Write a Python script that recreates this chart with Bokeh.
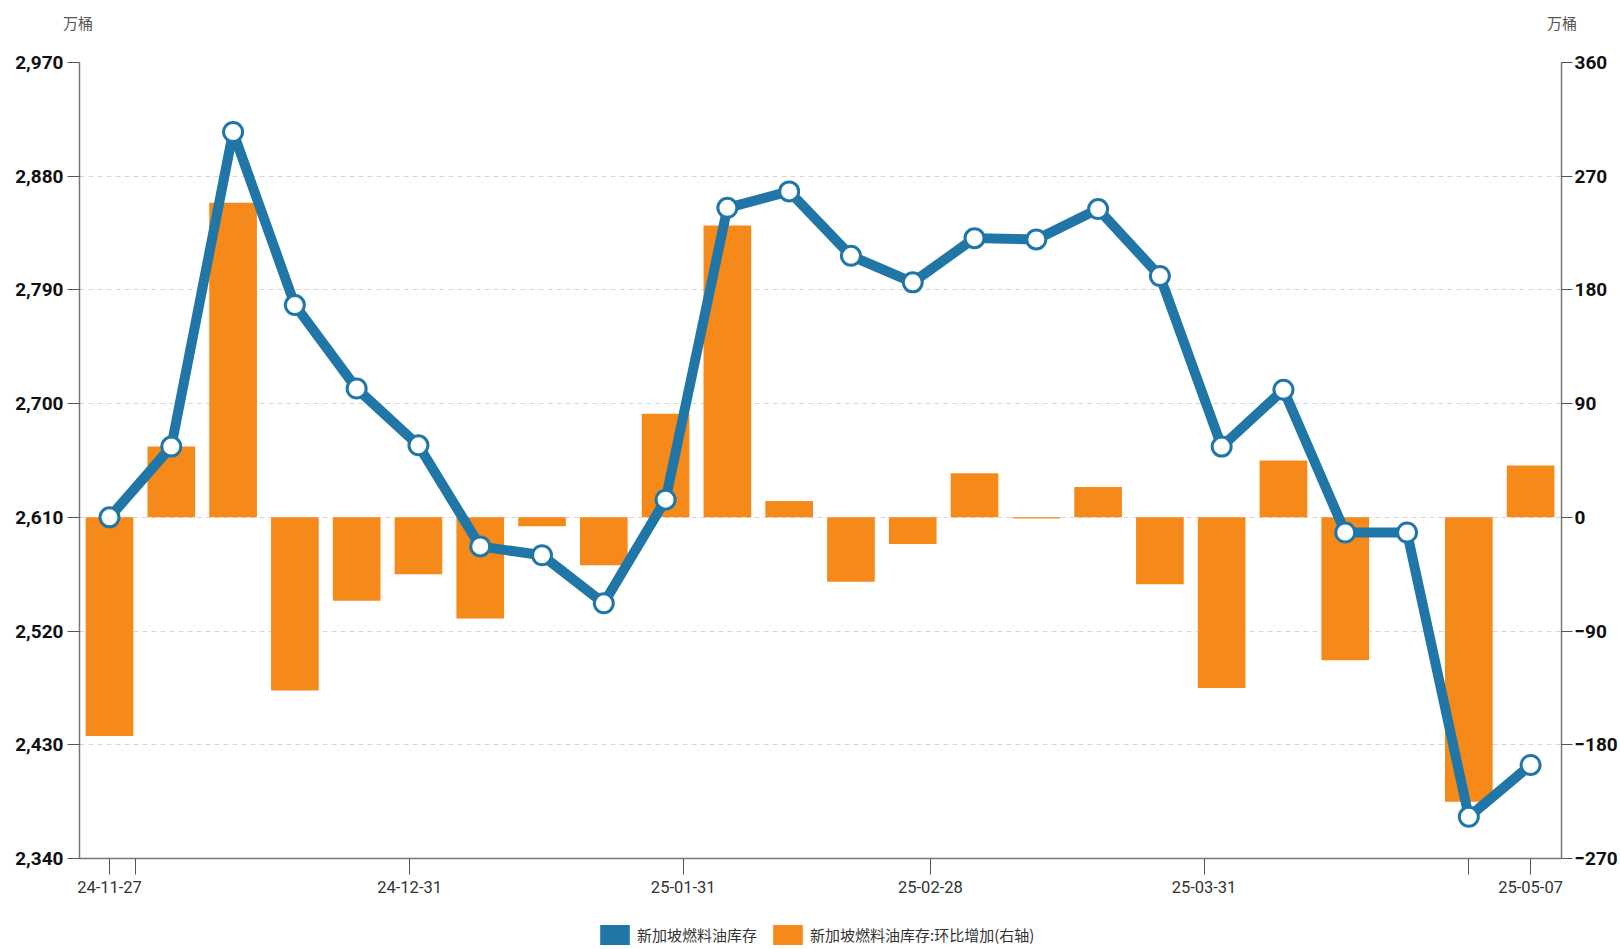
import pandas as pd
from bokeh.plotting import figure
from bokeh.layouts import column
from bokeh.models import (Range1d, LinearAxis, FixedTicker, NumeralTickFormatter,
                          DatetimeTickFormatter, Legend, LegendItem, ColumnDataSource, Div)
from bokeh.embed import file_html
from bokeh.resources import INLINE

dates = ["2024-11-27", "2024-12-04", "2024-12-11", "2024-12-18", "2024-12-25",
         "2025-01-01", "2025-01-08", "2025-01-15", "2025-01-22", "2025-01-29",
         "2025-02-05", "2025-02-12", "2025-02-19", "2025-02-26", "2025-03-05",
         "2025-03-12", "2025-03-19", "2025-03-26", "2025-04-02", "2025-04-09",
         "2025-04-16", "2025-04-23", "2025-04-30", "2025-05-07"]
stock = [2610, 2666, 2915, 2778, 2712, 2667, 2587, 2580, 2542, 2624,
         2855, 2868, 2817, 2796, 2831, 2830, 2854, 2801, 2666, 2711,
         2598, 2598, 2373, 2414]
change = [-173, 56, 249, -137, -66, -45, -80, -7, -38, 82,
          231, 13, -51, -21, 35, -1, 24, -53, -135, 45,
          -113, 0, -225, 41]
tick_dates = ["2024-11-27", "2024-12-31", "2025-01-31", "2025-02-28", "2025-03-31", "2025-05-07"]
unlabeled_tick_dates = ["2024-11-30", "2025-04-30"]
left_ticks = [2340, 2430, 2520, 2610, 2700, 2790, 2880, 2970]
right_ticks = [-270, -180, -90, 0, 90, 180, 270, 360]
series_names = ["新加坡燃料油库存", "新加坡燃料油库存:环比增加(右轴)"]
unit_label = "万桶"

BLUE = "#2176a8"
ORANGE = "#f5891a"
CJK = "Noto Sans CJK SC"
NUM = "Roboto"
DAY = 86400000.0

W = 1620
HEAD_H = 40
MAIN_H = 868
FOOT_H = 41
BL, BR, BT, BB = 79, 57, 22, 50


def ms(s):
    return pd.Timestamp(s).value / 1e6


x = [ms(d) for d in dates]
src = ColumnDataSource(dict(x=x, stock=stock, change=change))

# ---------- header with the unit labels ----------
span_css = ("position:absolute;top:0;width:60px;height:40px;line-height:46px;"
            "text-align:center;white-space:nowrap;")
head_html = (
    f'<div style="position:relative;width:{W}px;height:{HEAD_H}px;'
    f"font-family:'{CJK}';font-size:15px;color:#555555;\">"
    f'<span style="{span_css}left:{BL - 31}px;">{unit_label}</span>'
    f'<span style="{span_css}left:{W - BR - 31}px;">{unit_label}</span>'
    f'</div>'
)
head = Div(text=head_html, width=W, height=HEAD_H, margin=(0, 0, 0, 0))

# ---------- main chart ----------
p = figure(width=W, height=MAIN_H, x_axis_type="datetime",
           output_backend="svg", toolbar_location=None,
           x_range=Range1d(x[0] - 3.4 * DAY, x[-1] + 3.5 * DAY),
           y_range=Range1d(2340, 2970),
           min_border_left=BL, min_border_right=BR, min_border_top=BT, min_border_bottom=BB)
p.extra_y_ranges = {"right": Range1d(-270, 360)}
p.outline_line_color = None

p.vbar(x="x", top="change", bottom=0, width=5.4 * DAY, source=src,
       y_range_name="right", fill_color=ORANGE, line_color=None)
p.line(x="x", y="stock", source=src, line_color=BLUE, line_width=10, line_join="round")
p.scatter(x="x", y="stock", source=src, marker="circle", size=19,
          fill_color="white", line_color=BLUE, line_width=3)

p.xgrid.visible = False
p.ygrid.ticker = FixedTicker(ticks=left_ticks)
p.ygrid.grid_line_color = "#d6d6d6"
p.ygrid.grid_line_dash = "5 4"
p.ygrid.grid_line_width = 1

ya = p.yaxis[0]
ya.ticker = FixedTicker(ticks=left_ticks)
ya.formatter = NumeralTickFormatter(format="0,0")
ya.axis_line_color = "#777777"
ya.axis_line_width = 1.5
ya.major_tick_line_color = "#555555"
ya.major_tick_out = 12
ya.major_tick_in = 0
ya.minor_tick_line_color = None
ya.major_label_text_font = NUM
ya.major_label_text_font_size = "19px"
ya.major_label_text_font_style = "bold"
ya.major_label_text_color = "#111111"
ya.major_label_standoff = 4

ra = LinearAxis(y_range_name="right", ticker=FixedTicker(ticks=right_ticks))
ra.axis_line_color = "#777777"
ra.axis_line_width = 1.5
ra.major_tick_line_color = "#555555"
ra.major_tick_out = 11
ra.major_tick_in = 0
ra.minor_tick_line_color = None
ra.major_label_text_font = NUM
ra.major_label_text_font_size = "19px"
ra.major_label_text_font_style = "bold"
ra.major_label_text_color = "#111111"
ra.major_label_standoff = 2
p.add_layout(ra, "right")

xa = p.xaxis[0]
xa.ticker = FixedTicker(ticks=[ms(d) for d in tick_dates],
                        minor_ticks=[ms(d) for d in unlabeled_tick_dates])
fmt = "%y-%m-%d"
xa.formatter = DatetimeTickFormatter(milliseconds=fmt, seconds=fmt, minsec=fmt, minutes=fmt,
                                     hourmin=fmt, hours=fmt, days=fmt, months=fmt, years=fmt)
xa.axis_line_color = "#777777"
xa.axis_line_width = 1.5
xa.major_tick_line_color = "#555555"
xa.major_tick_out = 16
xa.major_tick_in = 0
xa.minor_tick_line_color = "#555555"
xa.minor_tick_out = 16
xa.minor_tick_in = 0
xa.major_label_text_font = NUM
xa.major_label_text_font_size = "16.5px"
xa.major_label_text_color = "#333333"
xa.major_label_standoff = 6

# ---------- footer with legend (frame aligned with main frame) ----------
foot = figure(width=W, height=FOOT_H, x_range=Range1d(0, 1), y_range=Range1d(0, 1),
              min_border=0, x_axis_location=None, y_axis_location=None,
              toolbar_location=None, output_backend="svg")
foot.outline_line_color = None
foot.grid.visible = False
# zero-height swatch renderers, used only for the legend patches
d1 = foot.vbar(x=[0.5], top=[0], bottom=[0], width=0.1, fill_color=BLUE, line_color=None)
d2 = foot.vbar(x=[0.5], top=[0], bottom=[0], width=0.1, fill_color=ORANGE, line_color=None)
legend = Legend(items=[LegendItem(label=series_names[0], renderers=[d1]),
                       LegendItem(label=series_names[1], renderers=[d2])],
                orientation="horizontal", location=(596 - BL, 2),
                glyph_width=37, glyph_height=25, label_standoff=4, spacing=12,
                padding=0, margin=0, border_line_color=None, background_fill_alpha=0,
                label_text_font=CJK, label_text_font_size="15px", label_text_color="#333333")
foot.add_layout(legend, "center")

layout = column(head, p, foot, spacing=0)
open("out.html", "w").write(file_html(layout, INLINE))
